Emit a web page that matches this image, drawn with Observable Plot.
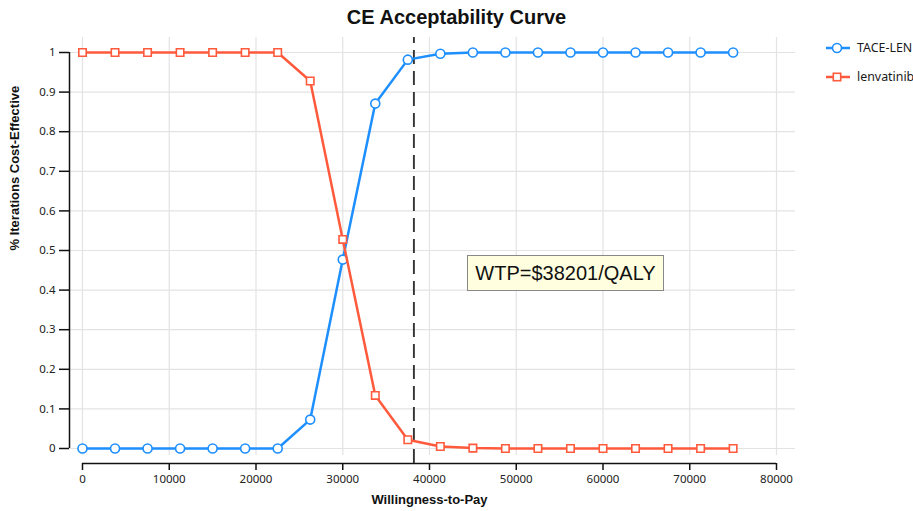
<!DOCTYPE html>
<html>
<head>
<meta charset="utf-8">
<script src="https://cdn.jsdelivr.net/npm/d3@7"></script>
<script src="https://cdn.jsdelivr.net/npm/@observablehq/plot@0.6"></script>
<style>
  html, body { margin: 0; padding: 0; background: #fff; }
  #wrap { position: relative; width: 913px; height: 511px; }
  #legend { position: absolute; left: 825px; top: 33px; font-family: "Noto Sans", "Open Sans", sans-serif; font-size: 12.4px; color: #1a1a1a; }
  #legend .row { display: flex; align-items: center; height: 29px; }
  #legend svg { margin-right: 6px; }
  #note { position: absolute; left: 467px; top: 255px; width: 197px; height: 36px; box-sizing: border-box;
          background: #ffffe0; border: 1px solid #888; font-family: "Liberation Sans", Arial, sans-serif;
          font-size: 20px; color: #111; display: flex; align-items: center; justify-content: center; }
</style>
</head>
<body>
<div id="wrap"></div>
<script>
// ---- data ----
const wtp = [0, 3750, 7500, 11250, 15000, 18750, 22500, 26250, 30000, 33750, 37500,
             41250, 45000, 48750, 52500, 56250, 60000, 63750, 67500, 71250, 75000];
const taceLen = [0, 0, 0, 0, 0, 0, 0, 0.073, 0.477, 0.871, 0.982,
                 0.997, 1, 1, 1, 1, 1, 1, 1, 1, 1];
const lenvatinib = [1, 1, 1, 1, 1, 1, 1, 0.928, 0.528, 0.134, 0.022,
                    0.005, 0.001, 0, 0, 0, 0, 0, 0, 0, 0];
const seriesNames = ["TACE-LEN", "lenvatinib"];
const seriesColors = ["#1e8fff", "#ff5a3c"];
const xTicks = [0, 10000, 20000, 30000, 40000, 50000, 60000, 70000, 80000];
const yTicks = [0, 0.1, 0.2, 0.3, 0.4, 0.5, 0.6, 0.7, 0.8, 0.9, 1];
const wtpThreshold = 38201;
const noteText = "WTP=$38201/QALY";

// ---- build ----
const rows = [];
wtp.forEach((w, i) => {
  rows.push({x: w, y: taceLen[i], s: seriesNames[0]});
  rows.push({x: w, y: lenvatinib[i], s: seriesNames[1]});
});
const tace = rows.filter(d => d.s === seriesNames[0]);
const lenv = rows.filter(d => d.s === seriesNames[1]);

// layout helpers (pixel offsets converted through the scale)
const W = 913, H = 511, mL = 82, mR = 137, mT = 52, mB = 63;
const xPer = (80000 - 0) / (W - mL - mR);   // data per px
const yPer = 1 / (H - mT - mB);
const xAxisLineX = -13 * xPer;              // y-axis line position
const yAxisTickX = -23 * xPer;
const gridRight = 80000 + 19 * xPer;
const xAxisY = -15 * yPer;
const xTickEnd = -22 * yPer;
const gridBottom = -7 * yPer;
const gridTop = 1 + 15 * yPer;

const font = "Noto Sans, Open Sans, sans-serif";
const boldFont = "Liberation Sans, Arial, sans-serif";

const chart = Plot.plot({
  width: W, height: H,
  marginLeft: mL, marginRight: mR, marginTop: mT, marginBottom: mB,
  x: {domain: [0, 80000], axis: null},
  y: {domain: [0, 1], axis: null},
  style: {fontFamily: font, background: "#fff"},
  marks: [
    // grid
    Plot.ruleY(yTicks, {x1: xAxisLineX, x2: gridRight, stroke: "#e3e3e3", strokeWidth: 1.2}),
    Plot.ruleX(xTicks, {y1: gridBottom, y2: gridTop, stroke: "#e3e3e3", strokeWidth: 1.2}),
    // y axis
    Plot.ruleX([xAxisLineX], {y1: 0, y2: 1, stroke: "#111", strokeWidth: 1.5}),
    Plot.ruleY(yTicks, {x1: yAxisTickX, x2: xAxisLineX, stroke: "#111", strokeWidth: 1.5}),
    Plot.text(yTicks, {x: yAxisTickX, y: d => d, text: d => String(d), dx: -4, textAnchor: "end",
      fontSize: 11.5, fill: "#222"}),
    // x axis
    Plot.ruleY([xAxisY], {x1: 0, x2: 80000, stroke: "#111", strokeWidth: 1.5}),
    Plot.ruleX(xTicks, {y1: xTickEnd, y2: xAxisY, stroke: "#111", strokeWidth: 1.5}),
    Plot.text(xTicks, {x: d => d, y: xTickEnd, text: d => String(d), dy: 9,
      fontSize: 11.5, fill: "#222"}),
    // threshold
    Plot.ruleX([wtpThreshold], {y1: xAxisY, y2: gridTop, stroke: "#333", strokeWidth: 1.9,
      strokeDasharray: "14,7"}),
    // series
    Plot.line(tace, {x: "x", y: "y", stroke: seriesColors[0], strokeWidth: 2.5}),
    Plot.dot(tace, {x: "x", y: "y", r: 4.5, fill: "#fff", stroke: seriesColors[0], strokeWidth: 1.6}),
    Plot.line(lenv, {x: "x", y: "y", stroke: seriesColors[1], strokeWidth: 2.5}),
    Plot.dot(lenv, {x: "x", y: "y", symbol: "square", r: 4.2, fill: "#fff", stroke: seriesColors[1], strokeWidth: 1.6}),
    // titles
    Plot.text(["CE Acceptability Curve"], {frameAnchor: "top", dx: 27, dy: -43, fontSize: 20,
      fontWeight: "bold", fill: "#111", fontFamily: boldFont}),
    Plot.text(["Willingness-to-Pay"], {frameAnchor: "bottom", dy: 55, fontSize: 13,
      fontWeight: "bold", fill: "#111", fontFamily: boldFont}),
    Plot.text(["% Iterations Cost-Effective"], {frameAnchor: "left", dx: -68, rotate: -90, fontSize: 13,
      fontWeight: "bold", fill: "#111", fontFamily: boldFont})
  ]
});

const wrap = document.getElementById("wrap");
wrap.appendChild(chart);

// legend
const legend = document.createElement("div");
legend.id = "legend";
seriesNames.forEach((name, i) => {
  const row = document.createElement("div");
  row.className = "row";
  const marker = i === 0
    ? `<circle cx="12" cy="7" r="4.5" fill="#fff" stroke="${seriesColors[i]}" stroke-width="1.6"/>`
    : `<rect x="8.3" y="3.3" width="7.4" height="7.4" fill="#fff" stroke="${seriesColors[i]}" stroke-width="1.6"/>`;
  row.innerHTML = `<svg width="26" height="14"><line x1="1" x2="25" y1="7" y2="7" stroke="${seriesColors[i]}" stroke-width="2.5"/>${marker}</svg><span>${name}</span>`;
  legend.appendChild(row);
});
wrap.appendChild(legend);

// annotation box
const note = document.createElement("div");
note.id = "note";
note.textContent = noteText;
wrap.appendChild(note);
</script>
</body>
</html>
